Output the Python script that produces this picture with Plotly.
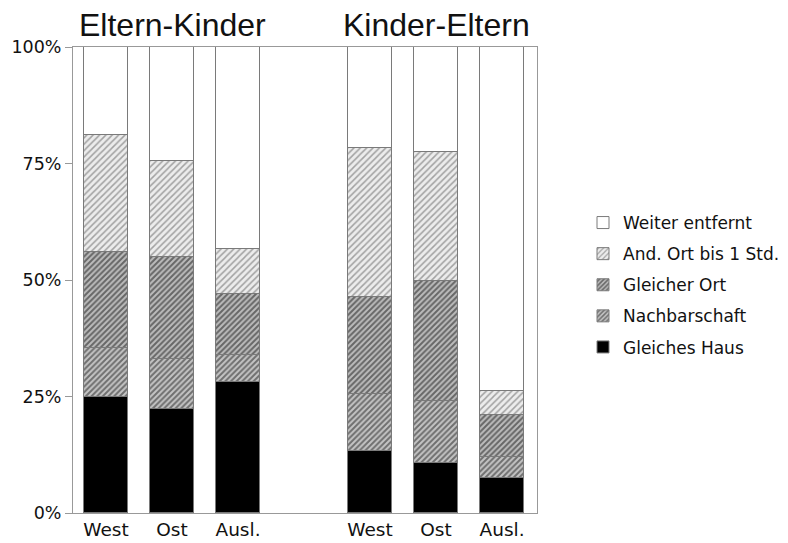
import plotly.graph_objects as go

# Data (percent shares, stacked from bottom)
positions = [0, 1, 2, 4, 5, 6]
tick_labels = ["West", "Ost", "Ausl.", "West", "Ost", "Ausl."]
gleiches_haus = [25.0, 22.3, 28.1, 13.2, 10.8, 7.6]
nachbarschaft = [10.4, 10.7, 5.7, 12.4, 13.3, 4.4]
gleicher_ort = [20.6, 22.0, 13.2, 20.7, 25.7, 9.0]
and_ort = [25.1, 20.5, 9.7, 32.0, 27.7, 5.1]
weiter_entfernt = [18.9, 24.5, 43.3, 21.7, 22.5, 73.9]
group_titles = ["Eltern-Kinder", "Kinder-Eltern"]

series = [
    ("Gleiches Haus", gleiches_haus, dict(color="black")),
    ("Nachbarschaft", nachbarschaft,
     dict(color="#c4c4c4", pattern=dict(shape="/", fgcolor="#1a1a1a", bgcolor="#c4c4c4", size=4, solidity=0.5))),
    ("Gleicher Ort", gleicher_ort,
     dict(color="#bcbcbc", pattern=dict(shape="/", fgcolor="#111", bgcolor="#bcbcbc", size=4, solidity=0.5))),
    ("And. Ort bis 1 Std.", and_ort,
     dict(color="#ececec", pattern=dict(shape="/", fgcolor="#555", bgcolor="#ececec", size=4.5, solidity=0.33))),
    ("Weiter entfernt", weiter_entfernt, dict(color="white")),
]

# page body has an 8px margin, so figure coordinates are offset by 8px
W, H = 780, 535

fig = go.Figure()
n = len(series)
for i, (name, vals, mk) in enumerate(series):
    mk = dict(mk)
    mk["line"] = dict(color="#7a7a7a", width=1)
    fig.add_trace(go.Bar(
        x=positions, y=vals, name=name, marker=mk, width=0.667,
        legendgroup=f"g{i}", legendrank=n - i,
    ))

for xc, title in zip([1, 5], group_titles):
    fig.add_annotation(x=xc, y=1, xref="x", yref="paper", yshift=22, text=title,
                       showarrow=False, font=dict(family="Liberation Sans", size=32, color="#111"),
                       yanchor="middle")

fig.update_layout(
    width=W, height=H,
    barmode="stack",
    bargap=0,
    plot_bgcolor="white", paper_bgcolor="white",
    margin=dict(l=65, r=251, t=39, b=30, autoexpand=False),
    legend=dict(
        traceorder="grouped", tracegroupgap=6,
        x=575 / W, xref="container", xanchor="left",
        y=1 - 197 / H, yref="container", yanchor="top",
        font=dict(family="DejaVu Sans", size=17, color="#111"),
        bgcolor="rgba(0,0,0,0)",
    ),
    xaxis=dict(
        range=[-0.5, 6.53],
        tickvals=positions, ticktext=tick_labels,
        showline=True, linecolor="#999", linewidth=1, mirror=True,
        ticks="", showgrid=False, zeroline=False,
        tickfont=dict(family="DejaVu Sans", size=18.5, color="#111"),
        layer="below traces",
    ),
    yaxis=dict(
        range=[0, 100],
        tickvals=[0, 25, 50, 75, 100], ticktext=["0%", "25%", "50%", "75%", "100%"],
        showline=True, linecolor="#999", linewidth=1, mirror=True,
        ticks="outside", ticklen=7, tickcolor="#999",
        showgrid=False, zeroline=False,
        tickfont=dict(family="DejaVu Sans", size=17.5, color="#111"),
        layer="below traces",
    ),
)

fig.write_html("out.html")
